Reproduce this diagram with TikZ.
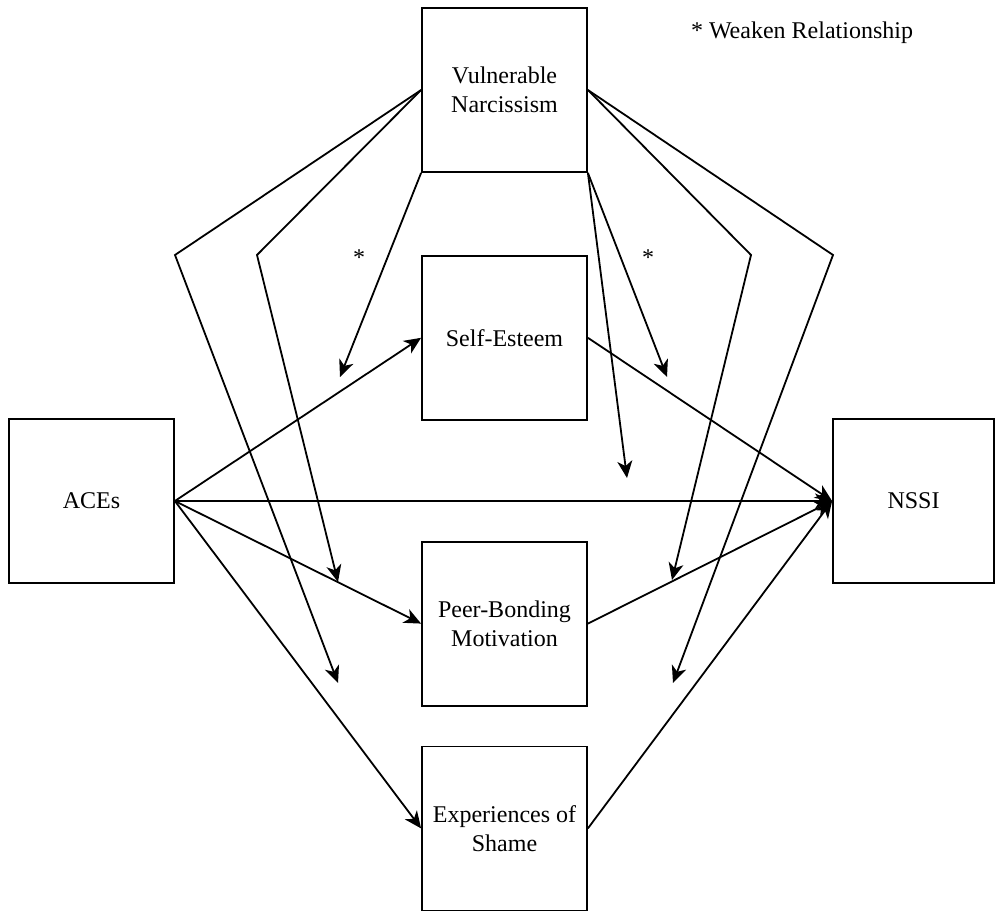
\documentclass[tikz,border=0pt]{standalone}
\usepackage{fontspec}
\setmainfont{Liberation Serif}
\usepackage{tikz}
\usetikzlibrary{arrows.meta, positioning, calc}

\begin{document}
\begin{tikzpicture}[
    x=0.5pt, y=-0.5pt,
    node distance=42pt and 123.5pt,
    box/.style={draw, rectangle, line width=0.9pt, minimum width=82.5pt, minimum height=82pt, align=center, inner sep=2pt},
    link/.style={line width=0.9pt},
    >={Stealth[length=8.5pt, width=7.5pt, inset=2.5pt]},
    font=\fontsize{12}{14.5}\selectfont,
]
    \useasboundingbox (0,0) rectangle (996,915);

    % boxes
    \node[box] (vn) at (504.5,90)      {Vulnerable\\Narcissism};
    \node[box, below=41pt of vn]     (se)    {Self-Esteem};
    \node[box, below=60pt of se]     (peer)  {Peer-Bonding\\Motivation};
    \node[box, below=19.5pt of peer] (shame) {Experiences of\\Shame};
    \node[box] (aces) at (91.5,501)    {ACEs};
    \node[box, minimum width=80.5pt] (nssi) at (913.5,501) {NSSI};

    \node (star1)  at (359,258) {*};
    \node (star2)  at (648,258) {*};
    \node (legend) at (802,33)  {* Weaken Relationship};

    % bends and free ends of the moderator lines
    \coordinate (bendLa) at (175,255);
    \coordinate (bendLb) at (257,255);
    \coordinate (bendRa) at (751,255);
    \coordinate (bendRb) at (833,255);
    \coordinate (tipSEl)    at (340,377);
    \coordinate (tipPeerL)  at (338,582);
    \coordinate (tipShameL) at (338,683);
    \coordinate (tipSEr)    at (667,377);
    \coordinate (tipDirect) at (627,478);
    \coordinate (tipPeerR)  at (672,580);
    \coordinate (tipShameR) at (673,683);

    % paths
    \draw[link,->] (aces.east)  -- (se.west);
    \draw[link,->] (aces.east)  -- (nssi.west);
    \draw[link,->] (aces.east)  -- (peer.west);
    \draw[link,->] (aces.east)  -- (shame.west);
    \draw[link,->] (se.east)    -- (nssi.west);
    \draw[link,->] (peer.east)  -- (nssi.west);
    \draw[link,->] (shame.east) -- (nssi.west);

    % moderation
    \draw[link,->] (vn.west) -- (bendLa) -- (tipShameL);
    \draw[link,->] (vn.west) -- (bendLb) -- (tipPeerL);
    \draw[link,->] (vn.south west) -- (tipSEl);
    \draw[link,->] (vn.south east) -- (tipSEr);
    \draw[link,->] (vn.south east) -- (tipDirect);
    \draw[link,->] (vn.east) -- (bendRa) -- (tipPeerR);
    \draw[link,->] (vn.east) -- (bendRb) -- (tipShameR);
\end{tikzpicture}
\end{document}
